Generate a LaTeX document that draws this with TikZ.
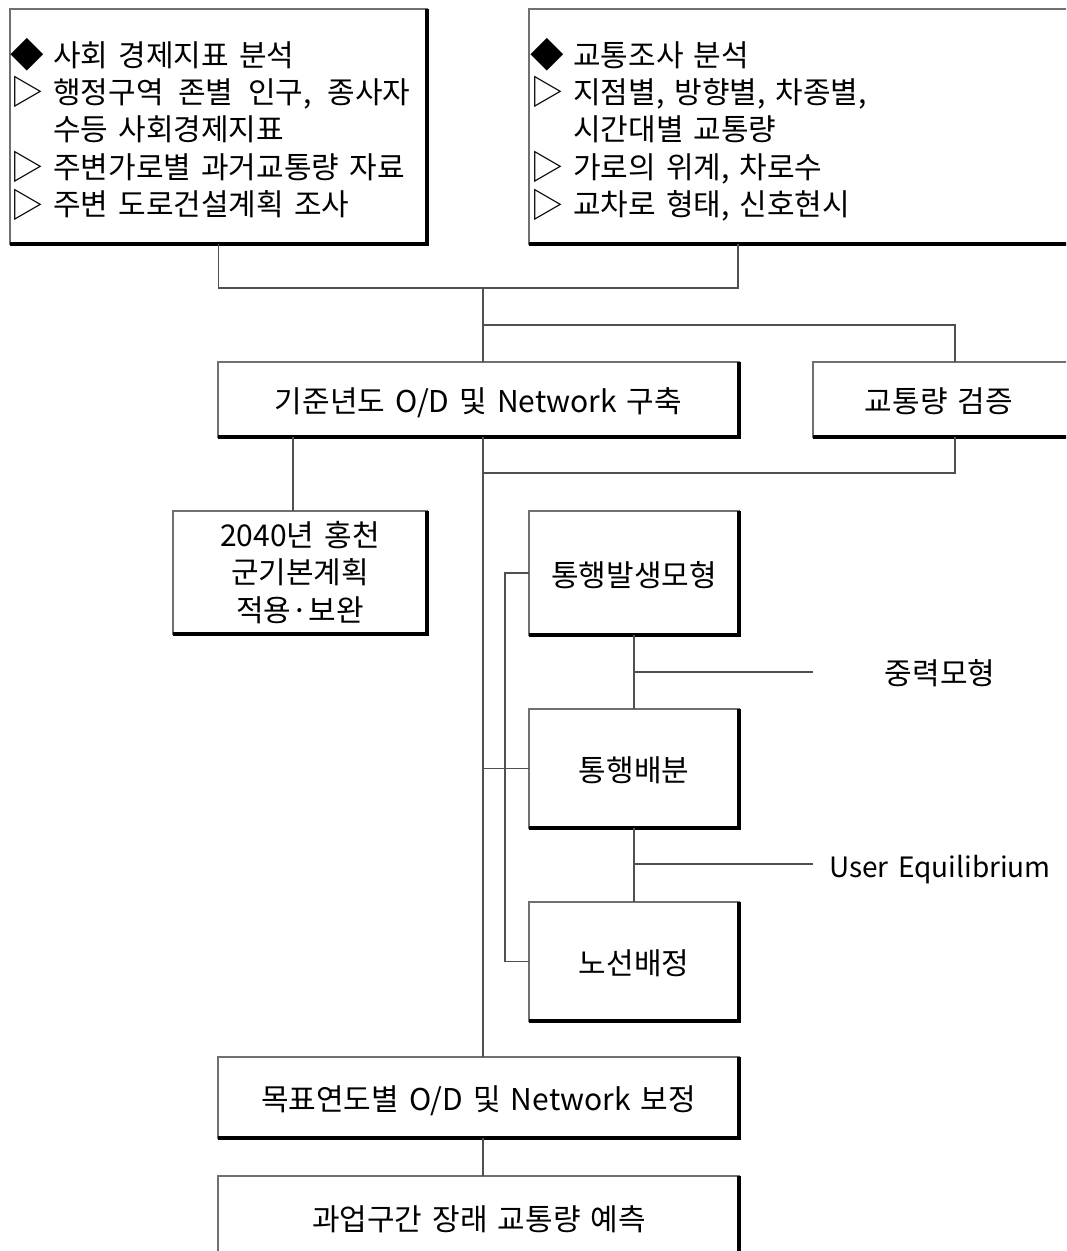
\documentclass[tikz,border=0pt]{standalone}
\usepackage{fontspec}
\setmainfont[WordSpace=1.5]{Noto Sans CJK KR}
\definecolor{edgegray}{HTML}{707070}
\definecolor{linegray}{HTML}{505050}
\tikzset{
  boxnode/.style={draw=edgegray, line width=0.9pt, fill=white, inner sep=0pt, outer sep=0pt, text height=20pt, text depth=0pt},
  multibox/.style={draw=edgegray, line width=0.9pt, fill=white, inner sep=0pt, outer sep=0pt, align=center},
  thickedge/.style={draw=black, line width=2.6pt, line join=miter},
  conn/.style={draw=linegray, line width=0.9pt},
  txt/.style={inner sep=0pt, text height=20pt, text depth=0pt},
  sym/.style={inner sep=0pt, text height=20pt, text depth=0pt, scale=1.12},
}
\newcommand\flowbox[7][boxnode]{%
  \node[#1, minimum width={(#5-#3)*0.75pt}, minimum height={(#6-#4)*0.75pt}] (#2) at ({(#3+#5)/2},{(#4+#6)/2}) {#7};
  \draw[thickedge] (#2.north east) -- (#2.south east) -- (#2.south west);}
\begin{document}
\begin{tikzpicture}[x=0.75pt, y=-0.75pt, font=\fontsize{22.5pt}{28pt}\selectfont]
\path[use as bounding box] (0,0) rectangle (1066,1251);
\clip (0,0) rectangle (1066,1251);
\fill[white] (0,0) rectangle (1066,1251);

% boxes
\flowbox{b1}{10}{9}{427}{244}{}
\flowbox{b2}{529}{9}{1090}{244}{}
\flowbox{b3}{218}{362}{739}{437}{기준년도 O/D 및 Network 구축}
\flowbox{b4}{813}{362}{1090}{437}{}
\flowbox[multibox]{b5}{173}{511}{427}{634}{2040년 홍천\\군기본계획\\적용·보완}
\flowbox{b6}{529}{511}{739}{635}{통행발생모형}
\flowbox{b7}{529}{709}{739}{828}{통행배분}
\flowbox{b8}{529}{902}{739}{1021}{노선배정}
\flowbox{b9}{218}{1057}{739}{1138}{목표연도별 O/D 및 Network 보정}
\flowbox{b10}{218}{1176}{739}{1300}{}

% box 1 text
\node[sym] (s11) at (27.5,53) {◆};
\node[txt, anchor=west] (l11) at (53,53) {사회 경제지표 분석};
\node[sym] (s12) at (27.5,90) {▷};
\node[txt, anchor=west] (l12) at (53,90) {\makebox[268pt][s]{행정구역 존별 인구, 종사자}};
\node[txt, anchor=west] (l13) at (53,127.5) {수등 사회경제지표};
\node[sym] (s14) at (27.5,165) {▷};
\node[txt, anchor=west] (l14) at (53,165) {주변가로별 과거교통량 자료};
\node[sym] (s15) at (27.5,202.5) {▷};
\node[txt, anchor=west] (l15) at (53,202.5) {주변 도로건설계획 조사};

% box 2 text
\node[sym] (s21) at (547.5,53) {◆};
\node[txt, anchor=west] (l21) at (573,53) {교통조사 분석};
\node[sym] (s22) at (547.5,90) {▷};
\node[txt, anchor=west] (l22) at (573,90) {지점별, 방향별, 차종별,};
\node[txt, anchor=west] (l23) at (573,127.5) {시간대별 교통량};
\node[sym] (s24) at (547.5,165) {▷};
\node[txt, anchor=west] (l24) at (573,165) {가로의 위계, 차로수};
\node[sym] (s25) at (547.5,202.5) {▷};
\node[txt, anchor=west] (l25) at (573,202.5) {교차로 형태, 신호현시};

% other texts
\node[txt] (t4) at (939,399.5) {교통량 검증};
\node[txt] (t10) at (479,1217) {과업구간 장래 교통량 예측};
\node[txt] (tg) at (940,671) {중력모형};
\node[txt, font=\fontsize{21pt}{26pt}\selectfont] (tu) at (940,864) {User Equilibrium};

% junction coordinates
\coordinate (j1) at (483,288);
\coordinate (j2) at (483,325);
\coordinate (j3) at (483,473);
\coordinate (g1) at (813,672);
\coordinate (g2) at (813,864);

% connectors
\draw[conn] (b1.south) |- (j1) -| ([xshift=156.75pt]b2.south west);
\draw[conn] (j1) -- (j1 |- b3.north);
\draw[conn] (j2) -| ([xshift=106.5pt]b4.north west);
\draw[conn] ([xshift=106.5pt]b4.south west) |- (j3);
\draw[conn] (j1 |- b3.south) -- (j1 |- b9.north);
\draw[conn] ([xshift=90pt]b5.north west) -- ([xshift=90pt]b5.north west |- b3.south);
\draw[conn] (b6.west) -- ++(-24,0) |- (b8.west);
\draw[conn] (j1 |- b7.west) -- (b7.west);
\draw[conn] (b6.south) -- (b7.north);
\draw[conn] (b6.south |- g1) -- (g1);
\draw[conn] (b7.south) -- (b8.north);
\draw[conn] (b7.south |- g2) -- (g2);
\draw[conn] (j1 |- b9.south) -- (j1 |- b10.north);
\end{tikzpicture}
\end{document}
